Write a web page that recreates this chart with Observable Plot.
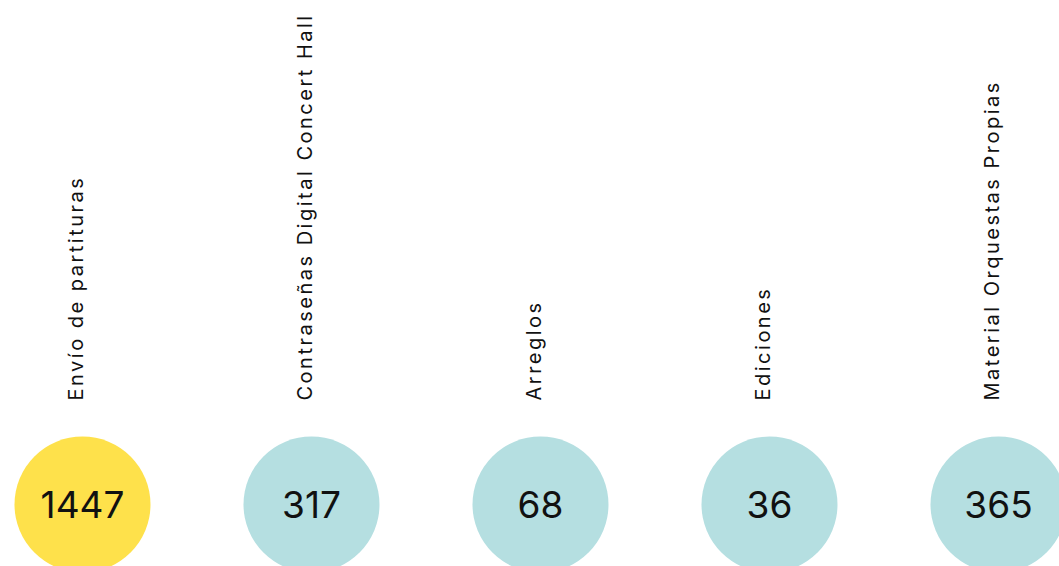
<!DOCTYPE html>
<html>
<head>
<meta charset="utf-8">
<script src="https://cdn.jsdelivr.net/npm/d3@7"></script>
<script src="https://cdn.jsdelivr.net/npm/@observablehq/plot@0.6"></script>
<style>
  html, body { margin: 0; padding: 0; background: #fff; overflow: hidden; }
  #chart svg { overflow: hidden !important; }
</style>
</head>
<body>
<div id="chart"></div>
<script>
const categories = ["Envío de partituras", "Contraseñas Digital Concert Hall", "Arreglos", "Ediciones", "Material Orquestas Propias"];
const values = [1447, 317, 68, 36, 365];
const highlight = [true, false, false, false, false];

const data = categories.map((c, i) => ({category: c, value: values[i], hl: highlight[i]}));

const chart = Plot.plot({
  width: 1059,
  height: 566,
  marginLeft: 82,
  marginRight: 61,
  marginTop: 0,
  marginBottom: 0,
  x: {type: "point", domain: categories, padding: 0, axis: null},
  style: {fontFamily: "Inter, 'Noto Sans', sans-serif", background: "#fff"},
  marks: [
    Plot.dot(data, {
      x: "category",
      frameAnchor: "bottom",
      dy: -62,
      r: 68,
      fill: d => d.hl ? "#FEE14B" : "#B5DFE1",
      stroke: "none"
    }),
    Plot.text(data, {
      x: "category",
      frameAnchor: "bottom",
      dy: -60,
      lineAnchor: "middle",
      text: d => String(d.value),
      fontSize: 37,
      fill: "#111",
      textAnchor: "middle"
    }),
    Plot.text(data, {
      x: "category",
      frameAnchor: "bottom",
      dy: -166,
      text: "category",
      rotate: -90,
      textAnchor: "start",
      lineAnchor: "bottom",
      fontSize: 20,
      fill: "#111"
    })
  ]
});

const textGroups = d3.select(chart).selectAll("g[aria-label='text']").nodes();
d3.select(textGroups[textGroups.length - 1]).style("letter-spacing", "2.5px");
d3.select(textGroups[0]).style("font-weight", "400");
document.getElementById("chart").appendChild(chart);
</script>
</body>
</html>
